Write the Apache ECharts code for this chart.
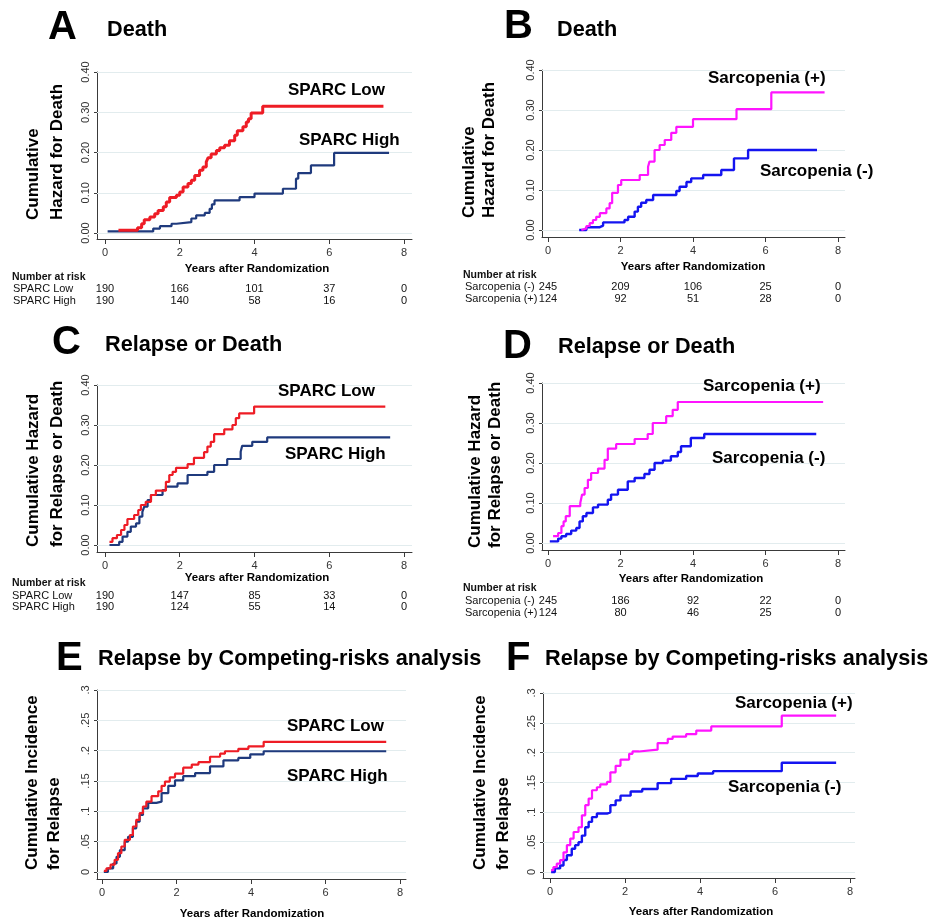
<!DOCTYPE html>
<html><head><meta charset="utf-8">
<script src="https://cdn.jsdelivr.net/npm/echarts@6/dist/echarts.min.js"></script>
<style>html,body{margin:0;padding:0;background:#fff}#c{width:930px;height:919px}</style>
</head><body><div id="c"></div>
<script>
// ---------- tick labels ----------
const xTicks = [0, 2, 4, 6, 8];
const hazardTicks = [0, 0.1, 0.2, 0.3, 0.4];
const hazardTickLabels = ['0.00', '0.10', '0.20', '0.30', '0.40'];
const cifTicks = [0, 0.05, 0.1, 0.15, 0.2, 0.25, 0.3];
const cifTickLabels = ['0', '.05', '.1', '.15', '.2', '.25', '.3'];

// ---------- A: Death, SPARC ----------
const A_low_t = [0.36,0.87,0.98,1.05,1.2,1.33,1.42,1.56,1.64,1.73,1.91,2.0,2.09,2.22,2.31,2.4,2.53,2.62,2.71,2.76,2.84,2.98,3.07,3.2,3.33,3.47,3.54,3.69,3.78,3.84,3.91,4.22,7.45];
const A_low_v = [0.007,0.013,0.023,0.033,0.040,0.048,0.056,0.065,0.077,0.088,0.094,0.102,0.114,0.123,0.131,0.143,0.156,0.164,0.177,0.187,0.196,0.205,0.212,0.218,0.229,0.243,0.254,0.264,0.276,0.284,0.298,0.315,0.315];
const A_high_t = [0.07,1.29,1.47,1.78,1.91,2.31,2.44,2.67,2.8,2.86,2.93,3.6,4.0,4.76,5.11,5.17,5.51,6.13,7.6];
const A_high_v = [0.004,0.011,0.017,0.023,0.027,0.036,0.044,0.05,0.06,0.071,0.081,0.089,0.098,0.11,0.135,0.149,0.168,0.199,0.199];

// ---------- B: Death, Sarcopenia ----------
const B_plus_t = [0.92,0.97,1.06,1.15,1.24,1.33,1.43,1.61,1.70,1.77,1.93,2.02,2.53,2.76,2.80,2.94,3.08,3.22,3.40,3.54,4.0,5.2,6.16,7.63];
const B_plus_v = [0.0,0.004,0.01,0.017,0.025,0.033,0.042,0.054,0.067,0.093,0.1125,0.125,0.1375,0.158,0.171,0.2,0.2125,0.225,0.243,0.258,0.277,0.302,0.344,0.344];
const B_minus_t = [0.86,1.06,1.43,1.52,2.11,2.21,2.39,2.48,2.57,2.71,2.9,3.54,3.63,3.82,3.95,4.28,4.78,5.13,5.52,7.42];
const B_minus_v = [0.0,0.007,0.011,0.019,0.025,0.033,0.046,0.058,0.068,0.075,0.0875,0.0975,0.108,0.12,0.129,0.1375,0.15,0.179,0.2,0.2];

// ---------- C: Relapse or Death, SPARC ----------
const C_low_t = [0.12,0.2,0.32,0.43,0.52,0.6,0.78,0.89,0.96,1.09,1.23,1.36,1.63,1.72,1.81,1.9,2.21,2.38,2.65,2.74,2.83,2.92,3.19,3.41,3.5,3.59,3.99,7.5];
const C_low_v = [0.008,0.017,0.025,0.0375,0.05,0.065,0.075,0.0875,0.1,0.108,0.125,0.136,0.158,0.175,0.183,0.193,0.202,0.218,0.232,0.246,0.258,0.277,0.289,0.3,0.317,0.329,0.346,0.346];
const C_high_t = [0.12,0.38,0.47,0.6,0.69,0.83,0.92,1.0,1.05,1.14,1.23,1.54,1.63,1.94,2.21,2.74,2.92,3.27,3.63,3.67,3.94,4.34,7.63];
const C_high_v = [0.0,0.008,0.021,0.033,0.046,0.054,0.071,0.083,0.096,0.1125,0.125,0.1375,0.146,0.154,0.175,0.183,0.2,0.215,0.233,0.248,0.258,0.269,0.269];

// ---------- D: Relapse or Death, Sarcopenia ----------
const D_plus_t = [0.14,0.28,0.37,0.43,0.49,0.6,0.89,0.94,1.01,1.1,1.19,1.38,1.56,1.65,1.88,2.39,2.75,2.89,3.26,3.44,3.58,7.59];
const D_plus_v = [0.017,0.025,0.042,0.054,0.067,0.092,0.1,0.121,0.1375,0.158,0.175,0.186,0.208,0.236,0.2475,0.26,0.2725,0.3,0.317,0.333,0.3525,0.3525];
const D_minus_t = [0.05,0.28,0.37,0.5,0.64,0.78,0.87,0.96,1.06,1.24,1.38,1.65,1.74,1.93,2.2,2.39,2.66,2.8,2.94,3.17,3.39,3.58,3.67,3.94,4.31,7.4];
const D_minus_v = [0.004,0.011,0.017,0.0225,0.031,0.0375,0.054,0.067,0.075,0.089,0.096,0.108,0.121,0.133,0.154,0.1625,0.1725,0.183,0.2,0.206,0.217,0.2275,0.242,0.2625,0.2725,0.2725];

// ---------- E: Relapse (competing risks), SPARC ----------
const E_low_t = [0.05,0.12,0.23,0.34,0.43,0.52,0.61,0.75,0.83,0.92,1.01,1.1,1.19,1.33,1.51,1.6,1.69,1.82,1.96,2.18,2.41,2.59,2.9,3.17,3.3,3.66,3.93,4.34,7.63];
const E_low_v = [0.002,0.006,0.012,0.02,0.031,0.042,0.053,0.061,0.075,0.086,0.097,0.108,0.116,0.125,0.133,0.142,0.149,0.156,0.162,0.172,0.177,0.181,0.19,0.195,0.199,0.203,0.207,0.2146,0.2146];
const E_high_t = [0.05,0.16,0.3,0.39,0.48,0.61,0.7,0.83,0.92,1.01,1.1,1.24,1.46,1.6,1.78,1.96,2.18,2.5,2.9,3.26,3.66,3.98,4.34,7.63];
const E_high_v = [0,0.006,0.014,0.025,0.036,0.05,0.058,0.072,0.083,0.094,0.105,0.114,0.116,0.13,0.142,0.151,0.158,0.163,0.174,0.184,0.188,0.194,0.199,0.199];

// ---------- F: Relapse (competing risks), Sarcopenia ----------
const F_plus_t = [0.03,0.09,0.18,0.27,0.36,0.45,0.54,0.63,0.76,0.85,0.94,1.03,1.12,1.25,1.34,1.52,1.61,1.75,1.88,2.11,2.2,2.37,2.87,3.14,3.27,3.63,3.9,4.3,6.18,7.63];
const F_plus_v = [0.003,0.008,0.014,0.02,0.033,0.045,0.056,0.067,0.075,0.095,0.112,0.123,0.137,0.142,0.147,0.151,0.167,0.178,0.1885,0.198,0.202,0.205,0.216,0.223,0.227,0.231,0.237,0.244,0.262,0.262];
const F_minus_t = [0.03,0.13,0.27,0.36,0.45,0.58,0.67,0.76,0.85,0.94,1.03,1.12,1.25,1.52,1.61,1.75,1.88,2.15,2.46,2.87,3.23,3.63,3.94,4.35,6.18,7.63];
const F_minus_v = [0,0.006,0.011,0.02,0.028,0.039,0.045,0.05,0.061,0.075,0.084,0.092,0.098,0.1,0.112,0.12,0.128,0.135,0.139,0.149,0.156,0.161,0.165,0.169,0.183,0.183];

// ---------- numbers at risk ----------
const riskTimes = [0, 2, 4, 6, 8];
const A_risk_low = [190, 166, 101, 37, 0];
const A_risk_high = [190, 140, 58, 16, 0];
const B_risk_minus = [245, 209, 106, 25, 0];
const B_risk_plus = [124, 92, 51, 28, 0];
const C_risk_low = [190, 147, 85, 33, 0];
const C_risk_high = [190, 124, 55, 14, 0];
const D_risk_minus = [245, 186, 92, 22, 0];
const D_risk_plus = [124, 80, 46, 25, 0];

// ---------- styling / layout ----------
const FONT = "'Liberation Sans', Arial, Helvetica, sans-serif";
const RED = '#ee1c25', NAVY = '#1f3a7d', MAG = '#ff14ff', BLUE = '#1414f0';
const GRIDC = '#e2ecee', AXC = '#3a3a3a', LBLC = '#333333';

const zip = (t, v) => t.map((x, i) => [x, v[i]]);

const panels = [
  { grid: {left: 97, top: 72, width: 315, height: 167}, x: [-0.214, 8.214], y: [-0.0149, 0.4], kind: 'hz',
    lines: [[A_high_t, A_high_v, NAVY, 2.2], [A_low_t, A_low_v, RED, 3]] },
  { grid: {left: 542, top: 70, width: 303, height: 167}, x: [-0.1655, 8.193], y: [-0.0175, 0.4], kind: 'hz',
    lines: [[B_minus_t, B_minus_v, BLUE, 2.4], [B_plus_t, B_plus_v, MAG, 2.2]] },
  { grid: {left: 97, top: 385, width: 315, height: 167}, x: [-0.214, 8.214], y: [-0.0175, 0.4], kind: 'hz',
    lines: [[C_high_t, C_high_v, NAVY, 2.2], [C_low_t, C_low_v, RED, 2.2]] },
  { grid: {left: 542, top: 383, width: 303, height: 167}, x: [-0.1655, 8.193], y: [-0.0175, 0.4], kind: 'hz',
    lines: [[D_minus_t, D_minus_v, BLUE, 2.4], [D_plus_t, D_plus_v, MAG, 2.2]] },
  { grid: {left: 97, top: 690, width: 309, height: 189}, x: [-0.134, 8.161], y: [-0.01154, 0.3], kind: 'cif',
    lines: [[E_high_t, E_high_v, NAVY, 2.2], [E_low_t, E_low_v, RED, 2.2]] },
  { grid: {left: 543, top: 693, width: 312, height: 185}, x: [-0.1867, 8.133], y: [-0.01006, 0.3], kind: 'cif',
    lines: [[F_minus_t, F_minus_v, BLUE, 2.4], [F_plus_t, F_plus_v, MAG, 2.2]] }
];

const grids = [], xAxes = [], yAxes = [], series = [];
panels.forEach((p, i) => {
  const yt = p.kind === 'hz' ? hazardTicks : cifTicks;
  const yl = p.kind === 'hz' ? hazardTickLabels : cifTickLabels;
  grids.push(Object.assign({containLabel: false}, p.grid));
  xAxes.push({
    type: 'value', gridIndex: i, min: p.x[0], max: p.x[1],
    axisLine: {show: true, onZero: false, lineStyle: {color: AXC, width: 1}},
    axisTick: {show: true, customValues: xTicks, length: 5, lineStyle: {color: AXC}},
    axisLabel: {show: true, customValues: xTicks, color: LBLC, fontFamily: FONT, fontSize: 11, margin: 8,
      formatter: v => String(Math.round(v))},
    splitLine: {show: false}
  });
  yAxes.push({
    type: 'value', gridIndex: i, min: p.y[0], max: p.y[1],
    axisLine: {show: true, onZero: false, lineStyle: {color: AXC, width: 1}},
    axisTick: {show: true, customValues: yt, length: 3, lineStyle: {color: AXC}},
    axisLabel: {show: true, customValues: yt, rotate: 90, color: LBLC, fontFamily: FONT, fontSize: 11, margin: 6,
      formatter: v => { let k = 0, d = 1e9; yt.forEach((t, j) => { if (Math.abs(t - v) < d) { d = Math.abs(t - v); k = j; } }); return yl[k]; }},
    splitLine: {show: false}
  });
  series.push({
    type: 'line', xAxisIndex: i, yAxisIndex: i, data: [], silent: true, z: 1, animation: false,
    markLine: {silent: true, symbol: 'none', animation: false, z: 1, label: {show: false},
      lineStyle: {color: GRIDC, width: 1.2, type: 'solid'},
      data: yt.map(v => ({yAxis: v}))}
  });
  p.lines.forEach(l => {
    series.push({
      type: 'line', xAxisIndex: i, yAxisIndex: i, step: 'end', showSymbol: false, symbol: 'none',
      animation: false, silent: true, z: 3, clip: false,
      lineStyle: {color: l[2], width: l[3]},
      data: zip(l[0], l[1])
    });
  });
});

function txt(x, y, text, font, extra, rot) {
  const el = {type: 'text', x: x, y: y, silent: true, z: 10,
    style: Object.assign({text: text, font: font, fill: '#000', textAlign: 'left', textVerticalAlign: 'middle'}, extra || {})};
  if (rot) el.rotation = rot;
  return el;
}
const BIG = 'bold 40px ' + FONT, TTL = 'bold 21.7px ' + FONT, YT = 'bold 17px ' + FONT,
      SL = 'bold 17px ' + FONT, XT = 'bold 11.5px ' + FONT, NH = 'bold 10.5px ' + FONT, NR = '11px ' + FONT;
const R90 = Math.PI / 2;

const graphics = [
  // panel letters + titles
  txt(48, 28, 'A', BIG), txt(107, 30, 'Death', TTL),
  txt(504, 27, 'B', BIG), txt(557, 30, 'Death', TTL),
  txt(52, 343, 'C', BIG), txt(105, 345, 'Relapse or Death', TTL),
  txt(503, 347, 'D', BIG), txt(558, 347, 'Relapse or Death', TTL),
  txt(56, 659, 'E', BIG), txt(98, 659, 'Relapse by Competing-risks analysis', TTL),
  txt(506, 659, 'F', BIG), txt(545, 659, 'Relapse by Competing-risks analysis', TTL),
  // y titles
  txt(33, 220, 'Cumulative', YT, null, R90), txt(57, 220, 'Hazard for Death', YT, null, R90),
  txt(469, 218, 'Cumulative', YT, null, R90), txt(489, 218, 'Hazard for Death', YT, null, R90),
  txt(33, 547, 'Cumulative Hazard', YT, null, R90), txt(57, 547, 'for Relapse or Death', YT, null, R90),
  txt(475, 548, 'Cumulative Hazard', YT, null, R90), txt(495, 548, 'for Relapse or Death', YT, null, R90),
  txt(32, 870, 'Cumulative Incidence', YT, null, R90), txt(54, 870, 'for Relapse', YT, null, R90),
  txt(480, 870, 'Cumulative Incidence', YT, null, R90), txt(503, 870, 'for Relapse', YT, null, R90),
  // x titles
  txt(257, 269, 'Years after Randomization', XT, {textAlign: 'center'}),
  txt(693, 267, 'Years after Randomization', XT, {textAlign: 'center'}),
  txt(257, 578, 'Years after Randomization', XT, {textAlign: 'center'}),
  txt(691, 579, 'Years after Randomization', XT, {textAlign: 'center'}),
  txt(252, 914, 'Years after Randomization', XT, {textAlign: 'center'}),
  txt(701, 912, 'Years after Randomization', XT, {textAlign: 'center'}),
  // series labels
  txt(288, 90, 'SPARC Low', SL), txt(299, 140, 'SPARC High', SL),
  txt(708, 78, 'Sarcopenia (+)', SL), txt(760, 171, 'Sarcopenia (-)', SL),
  txt(278, 391, 'SPARC Low', SL), txt(285, 454, 'SPARC High', SL),
  txt(703, 386, 'Sarcopenia (+)', SL), txt(712, 458, 'Sarcopenia (-)', SL),
  txt(287, 726, 'SPARC Low', SL), txt(287, 776, 'SPARC High', SL),
  txt(735, 703, 'Sarcopenia (+)', SL), txt(728, 787, 'Sarcopenia (-)', SL)
];

const chart = echarts.init(document.getElementById('c'), null, {renderer: 'canvas', width: 930, height: 919});
chart.setOption({
  backgroundColor: '#ffffff', animation: false,
  grid: grids, xAxis: xAxes, yAxis: yAxes, series: series
});

// numbers-at-risk tables, aligned with x-axis ticks
const tables = [
  {p: 0, hx: 12, hy: 277, lx: 13, rows: [['SPARC Low', A_risk_low, 289], ['SPARC High', A_risk_high, 301]]},
  {p: 1, hx: 463, hy: 275, lx: 465, rows: [['Sarcopenia (-)', B_risk_minus, 287], ['Sarcopenia (+)', B_risk_plus, 299]]},
  {p: 2, hx: 12, hy: 583, lx: 12, rows: [['SPARC Low', C_risk_low, 596], ['SPARC High', C_risk_high, 607]]},
  {p: 3, hx: 463, hy: 588, lx: 465, rows: [['Sarcopenia (-)', D_risk_minus, 601], ['Sarcopenia (+)', D_risk_plus, 613]]}
];
tables.forEach(tb => {
  graphics.push(txt(tb.hx, tb.hy, 'Number at risk', NH, {fill: '#111'}));
  tb.rows.forEach(r => {
    graphics.push(txt(tb.lx, r[2], r[0], NR, {fill: '#111'}));
    r[1].forEach((n, k) => {
      const px = chart.convertToPixel({xAxisIndex: tb.p}, riskTimes[k]);
      graphics.push(txt(px, r[2], String(n), NR, {fill: '#111', textAlign: 'center'}));
    });
  });
});
chart.setOption({graphic: graphics});
</script></body></html>
